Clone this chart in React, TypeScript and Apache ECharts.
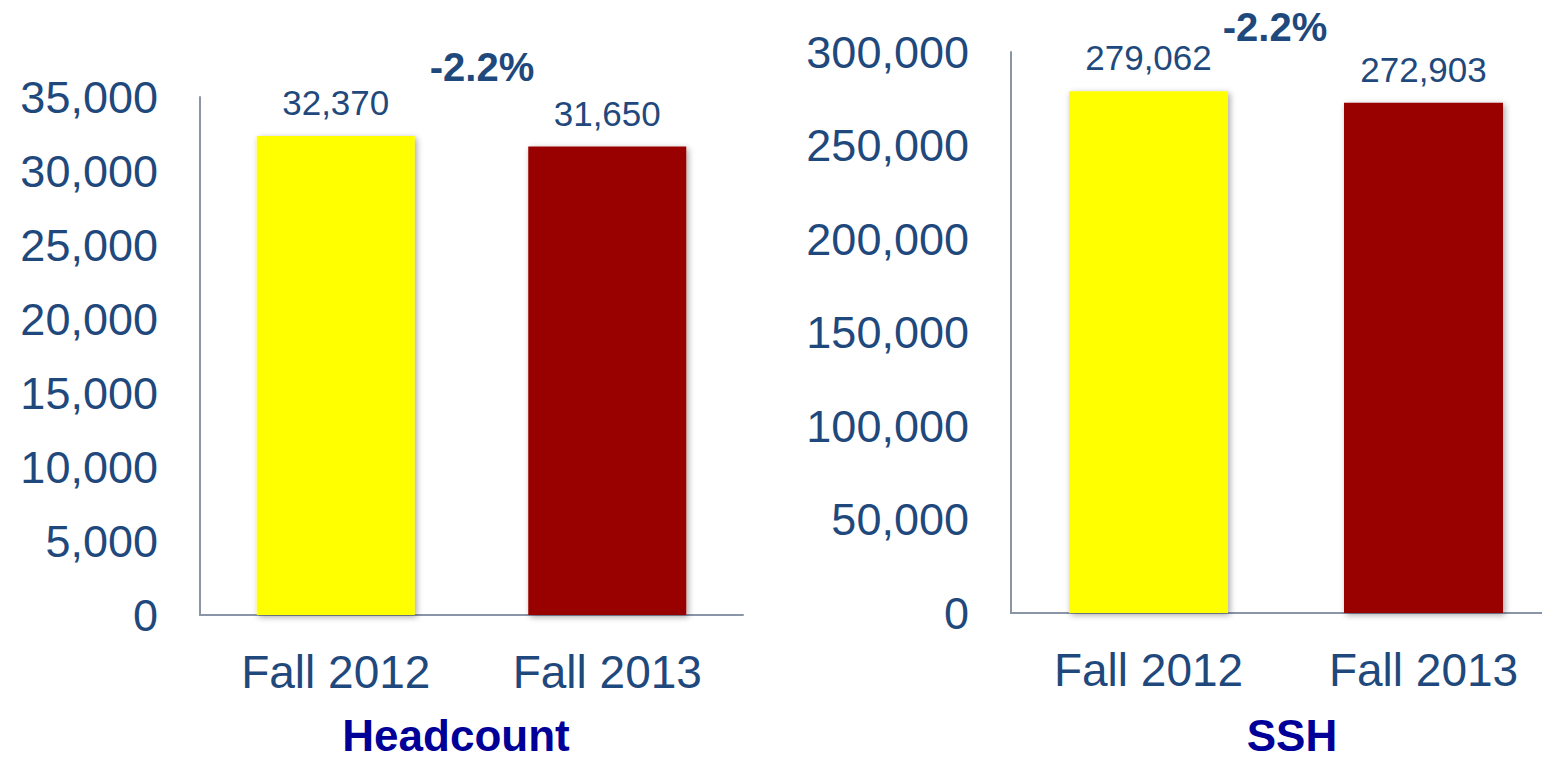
import React, { useEffect, useRef } from "react";
import * as echarts from "echarts";

const categories = ["Fall 2012", "Fall 2013"];
const headcountValues = [32370, 31650];
const sshValues = [279062, 272903];
const barColors = ["#FFFF00", "#990000"];
const changeLabels = ["-2.2%", "-2.2%"];
const chartTitles = ["Headcount", "SSH"];

const textColor = "#1F497D";
const axisColor = "#8B95A8";
const FONT = "Arial, 'Liberation Sans', Helvetica, sans-serif";

function fmt(v: number) {
  return v.toLocaleString("en-US");
}

export default function App() {
  const ref = useRef<HTMLDivElement>(null);
  useEffect(() => {
    if (!ref.current) return;
    const chart = echarts.init(ref.current, null, { renderer: "svg" });
    const grids = [
      { left: 200, top: 97, width: 543, height: 518 },
      { left: 1011, top: 52, width: 550, height: 561 },
    ];
    const mkX = (gi: number) => ({
      type: "category",
      gridIndex: gi,
      data: categories,
      axisLine: { show: true, lineStyle: { color: axisColor, width: 2 } },
      axisTick: { show: false },
      axisLabel: { color: textColor, fontSize: 46, fontFamily: FONT, margin: 34 },
    });
    const mkY = (gi: number, max: number, interval: number) => ({
      type: "value",
      gridIndex: gi,
      min: 0,
      max,
      interval,
      axisLine: { show: true, lineStyle: { color: axisColor, width: 2 } },
      axisTick: { show: false },
      splitLine: { show: false },
      axisLabel: {
        color: textColor,
        fontSize: 45,
        fontFamily: FONT,
        margin: 42,
        formatter: (v: number) => fmt(v),
      },
    });
    const mkSeries = (gi: number, values: number[], bw: number) => ({
      type: "bar",
      xAxisIndex: gi,
      yAxisIndex: gi,
      barWidth: bw,
      data: values.map((v, i) => ({
        value: v,
        itemStyle: {
          color: barColors[i],
          shadowBlur: 6,
          shadowColor: "rgba(0,0,0,0.35)",
          shadowOffsetX: 2,
          shadowOffsetY: 2,
        },
      })),
      label: {
        show: true,
        position: "top",
        distance: 16,
        color: textColor,
        fontSize: 35,
        fontFamily: FONT,
        formatter: (p: any) => fmt(p.value),
      },
    });
    chart.setOption({
      animation: false,
      grid: grids,
      xAxis: [mkX(0), mkX(1)],
      yAxis: [mkY(0, 35000, 5000), mkY(1, 300000, 50000)],
      series: [mkSeries(0, headcountValues, 158), mkSeries(1, sshValues, 159)],
      graphic: [
        {
          type: "text",
          x: 482,
          y: 67,
          style: {
            text: changeLabels[0],
            fill: textColor,
            font: `bold 40px ${FONT}`,
            align: "center",
            verticalAlign: "middle",
          },
        },
        {
          type: "text",
          x: 1275,
          y: 27,
          style: {
            text: changeLabels[1],
            fill: textColor,
            font: `bold 40px ${FONT}`,
            align: "center",
            verticalAlign: "middle",
          },
        },
        {
          type: "text",
          x: 456,
          y: 735,
          style: {
            text: chartTitles[0],
            fill: "#000099",
            font: `bold 44px ${FONT}`,
            align: "center",
            verticalAlign: "middle",
          },
        },
        {
          type: "text",
          x: 1292,
          y: 735,
          style: {
            text: chartTitles[1],
            fill: "#000099",
            font: `bold 44px ${FONT}`,
            align: "center",
            verticalAlign: "middle",
          },
        },
      ],
    });
    return () => chart.dispose();
  }, []);
  return (
    <div style={{ position: "fixed", left: 0, top: 0, width: 1542, height: 763, overflow: "hidden", background: "#fff" }}>
      <div ref={ref} style={{ position: "absolute", left: 0, top: 0, width: 1575, height: 763 }} />
    </div>
  );
}
